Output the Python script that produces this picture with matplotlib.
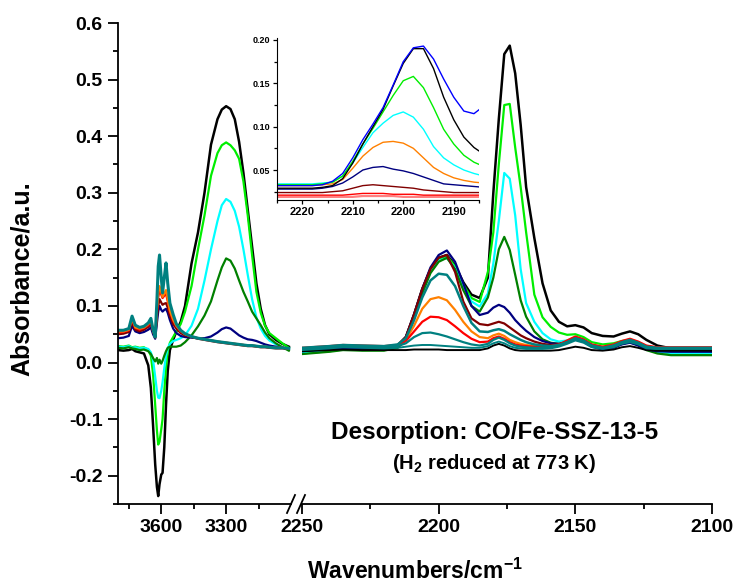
import matplotlib
matplotlib.use("Agg")
import matplotlib.pyplot as plt
from matplotlib.lines import Line2D
from matplotlib.ticker import FixedLocator, FormatStrFormatter, MultipleLocator

plt.rcParams["font.family"] = "Liberation Sans"
plt.rcParams["font.weight"] = "bold"
plt.rcParams["mathtext.fontset"] = "custom"
plt.rcParams["mathtext.rm"] = "Liberation Sans"
plt.rcParams["mathtext.bf"] = "Liberation Sans:bold"
plt.rcParams["axes.unicode_minus"] = False

W, H = 737, 584

# ---- OH region (left segment) ----
WN_L = [3800, 3775, 3750, 3735, 3720, 3700, 3680, 3660, 3648, 3638, 3628, 3620,
        3614, 3608, 3600, 3594, 3586, 3578, 3570, 3560, 3545, 3530, 3510, 3490,
        3460, 3430, 3400, 3370, 3340, 3320, 3300, 3280, 3260, 3240, 3220, 3200,
        3180, 3160, 3140, 3120, 3100, 3070, 3040, 3010]
black_L = [0.022, 0.021, 0.022, 0.024, 0.020, 0.018, 0.016, -0.005, -0.045, -0.110,
           -0.180, -0.220, -0.236, -0.215, -0.198, -0.195, -0.150, -0.075, -0.015,
           0.022, 0.040, 0.055, 0.072, 0.100, 0.175, 0.230, 0.300, 0.385, 0.430,
           0.447, 0.453, 0.448, 0.430, 0.390, 0.335, 0.270, 0.205, 0.140, 0.095,
           0.066, 0.050, 0.040, 0.033, 0.028]
lime_L = [0.029, 0.028, 0.030, 0.027, 0.028, 0.026, 0.027, 0.022, 0.012, -0.020,
          -0.075, -0.120, -0.145, -0.140, -0.118, -0.100, -0.050, -0.010, 0.020,
          0.035, 0.045, 0.055, 0.068, 0.090, 0.135, 0.200, 0.260, 0.330, 0.370,
          0.384, 0.389, 0.384, 0.375, 0.360, 0.320, 0.260, 0.190, 0.125, 0.088,
          0.065, 0.052, 0.043, 0.034, 0.026]
cyan_L = [0.028, 0.027, 0.029, 0.026, 0.027, 0.025, 0.026, 0.024, 0.018, 0.005,
          -0.025, -0.050, -0.062, -0.063, -0.050, -0.035, -0.010, 0.012, 0.025,
          0.033, 0.038, 0.040, 0.043, 0.048, 0.065, 0.095, 0.145, 0.200, 0.250,
          0.278, 0.289, 0.284, 0.268, 0.240, 0.200, 0.155, 0.112, 0.080, 0.060,
          0.047, 0.039, 0.032, 0.027, 0.023]
dgreen_L = [0.026, 0.025, 0.027, 0.025, 0.024, 0.022, 0.023, 0.020, 0.015, 0.008,
            0.002, 0.008, -0.002, 0.005, -0.002, 0.003, 0.012, 0.020, 0.026, 0.028,
            0.028, 0.028, 0.030, 0.036, 0.048, 0.064, 0.083, 0.108, 0.145, 0.168,
            0.184, 0.180, 0.166, 0.145, 0.125, 0.108, 0.090, 0.078, 0.066, 0.053,
            0.043, 0.034, 0.027, 0.021]
navy_L = [0.043, 0.044, 0.047, 0.065, 0.055, 0.052, 0.054, 0.058, 0.062, 0.050,
          0.042, 0.070, 0.090, 0.100, 0.093, 0.090, 0.093, 0.095, 0.088, 0.075,
          0.060, 0.052, 0.047, 0.045, 0.044, 0.043, 0.043, 0.046, 0.053, 0.059,
          0.062, 0.060, 0.054, 0.048, 0.044, 0.041, 0.040, 0.038, 0.035, 0.032,
          0.030, 0.028, 0.026, 0.025]
dred_L = [0.050, 0.051, 0.054, 0.072, 0.058, 0.055, 0.058, 0.063, 0.068, 0.054,
          0.044, 0.080, 0.100, 0.112, 0.106, 0.102, 0.104, 0.105, 0.097, 0.082,
          0.068, 0.060, 0.052, 0.048, 0.045, 0.042, 0.040, 0.038, 0.036, 0.035,
          0.034, 0.033, 0.032, 0.031, 0.030, 0.029, 0.029, 0.028, 0.027, 0.027,
          0.026, 0.025, 0.025, 0.024]
red_L = [0.053, 0.054, 0.057, 0.076, 0.061, 0.058, 0.061, 0.066, 0.073, 0.056,
         0.045, 0.090, 0.115, 0.128, 0.120, 0.114, 0.118, 0.122, 0.108, 0.090,
         0.074, 0.064, 0.055, 0.050, 0.046, 0.043, 0.041, 0.039, 0.037, 0.036,
         0.035, 0.034, 0.033, 0.032, 0.031, 0.030, 0.030, 0.029, 0.028, 0.028,
         0.027, 0.026, 0.026, 0.025]
orange_L = [0.055, 0.055, 0.058, 0.078, 0.062, 0.060, 0.062, 0.068, 0.075, 0.058,
            0.045, 0.095, 0.122, 0.135, 0.125, 0.116, 0.122, 0.128, 0.112, 0.092,
            0.076, 0.065, 0.056, 0.050, 0.046, 0.043, 0.041, 0.039, 0.037, 0.036,
            0.035, 0.034, 0.033, 0.032, 0.031, 0.030, 0.030, 0.029, 0.028, 0.028,
            0.027, 0.026, 0.026, 0.025]
teal_L = [0.057, 0.057, 0.060, 0.082, 0.066, 0.062, 0.064, 0.070, 0.078, 0.058,
          0.045, 0.110, 0.170, 0.190, 0.150, 0.123, 0.150, 0.176, 0.140, 0.105,
          0.085, 0.068, 0.057, 0.051, 0.046, 0.043, 0.041, 0.039, 0.037, 0.036,
          0.035, 0.034, 0.033, 0.032, 0.031, 0.030, 0.030, 0.029, 0.028, 0.028,
          0.027, 0.026, 0.026, 0.025]

# ---- CO region (right segment) ----
WN_R = [2250, 2240, 2235, 2228, 2220, 2215, 2212, 2209, 2206, 2203, 2200, 2197,
        2194, 2191, 2188, 2185, 2182, 2180, 2178, 2176, 2174, 2172, 2170, 2168,
        2165, 2162, 2159, 2156, 2153, 2150, 2147, 2144, 2140, 2136, 2133, 2130,
        2127, 2124, 2120, 2115, 2108, 2100]
black_R = [0.022, 0.025, 0.027, 0.026, 0.026, 0.030, 0.045, 0.085, 0.130, 0.165,
           0.185, 0.190, 0.172, 0.142, 0.120, 0.114, 0.150, 0.300, 0.430, 0.545,
           0.560, 0.511, 0.420, 0.310, 0.220, 0.140, 0.092, 0.072, 0.064, 0.066,
           0.062, 0.052, 0.047, 0.046, 0.051, 0.055, 0.050, 0.040, 0.030, 0.025,
           0.024, 0.024]
lime_R = [0.016, 0.020, 0.023, 0.022, 0.022, 0.027, 0.042, 0.082, 0.128, 0.163,
          0.183, 0.188, 0.170, 0.138, 0.114, 0.107, 0.160, 0.230, 0.350, 0.455,
          0.457, 0.380, 0.310, 0.230, 0.120, 0.080, 0.063, 0.053, 0.049, 0.050,
          0.045, 0.036, 0.032, 0.034, 0.038, 0.040, 0.035, 0.027, 0.020, 0.016,
          0.015, 0.015]
cyan_R = [0.018, 0.022, 0.025, 0.024, 0.024, 0.028, 0.042, 0.080, 0.125, 0.160,
          0.180, 0.185, 0.167, 0.134, 0.108, 0.099, 0.122, 0.175, 0.250, 0.335,
          0.325, 0.260, 0.165, 0.105, 0.072, 0.052, 0.041, 0.037, 0.039, 0.044,
          0.040, 0.030, 0.026, 0.029, 0.035, 0.038, 0.033, 0.025, 0.019, 0.017,
          0.017, 0.017]
dgreen_R = [0.015, 0.019, 0.022, 0.021, 0.021, 0.026, 0.040, 0.078, 0.122, 0.158,
            0.178, 0.185, 0.165, 0.128, 0.100, 0.090, 0.115, 0.150, 0.200, 0.222,
            0.199, 0.155, 0.110, 0.081, 0.055, 0.041, 0.035, 0.033, 0.036, 0.043,
            0.039, 0.029, 0.024, 0.027, 0.033, 0.036, 0.031, 0.022, 0.016, 0.013,
            0.013, 0.013]
navy_R = [0.020, 0.024, 0.026, 0.025, 0.025, 0.030, 0.045, 0.085, 0.130, 0.168,
          0.190, 0.198, 0.178, 0.140, 0.100, 0.084, 0.088, 0.097, 0.102, 0.098,
          0.088, 0.075, 0.065, 0.056, 0.045, 0.038, 0.034, 0.033, 0.035, 0.041,
          0.037, 0.028, 0.023, 0.026, 0.032, 0.035, 0.030, 0.023, 0.020, 0.019,
          0.019, 0.019]
dred_R = [0.024, 0.027, 0.029, 0.028, 0.027, 0.031, 0.045, 0.085, 0.130, 0.165,
          0.185, 0.190, 0.160, 0.108, 0.078, 0.068, 0.066, 0.069, 0.072, 0.069,
          0.062, 0.055, 0.048, 0.043, 0.037, 0.033, 0.031, 0.032, 0.036, 0.043,
          0.039, 0.030, 0.026, 0.029, 0.035, 0.039, 0.034, 0.027, 0.025, 0.024,
          0.024, 0.024]
teal_R = [0.026, 0.029, 0.031, 0.030, 0.029, 0.032, 0.043, 0.075, 0.115, 0.145,
          0.157, 0.155, 0.135, 0.100, 0.070, 0.055, 0.054, 0.057, 0.059, 0.056,
          0.050, 0.045, 0.040, 0.036, 0.032, 0.030, 0.029, 0.031, 0.036, 0.043,
          0.039, 0.030, 0.026, 0.030, 0.036, 0.040, 0.035, 0.028, 0.026, 0.026,
          0.026, 0.026]
orange_R = [0.025, 0.028, 0.030, 0.029, 0.028, 0.031, 0.040, 0.065, 0.095, 0.112,
            0.1155, 0.110, 0.093, 0.072, 0.055, 0.045, 0.043, 0.048, 0.051, 0.047,
            0.040, 0.036, 0.033, 0.031, 0.029, 0.028, 0.028, 0.030, 0.037, 0.044,
            0.040, 0.031, 0.027, 0.031, 0.037, 0.041, 0.036, 0.029, 0.026, 0.026,
            0.026, 0.026]
red_R = [0.026, 0.029, 0.031, 0.030, 0.029, 0.031, 0.038, 0.055, 0.072, 0.081,
         0.080, 0.075, 0.064, 0.052, 0.042, 0.036, 0.037, 0.043, 0.046, 0.042,
         0.036, 0.032, 0.030, 0.029, 0.028, 0.028, 0.029, 0.032, 0.039, 0.046,
         0.041, 0.032, 0.028, 0.032, 0.038, 0.042, 0.037, 0.030, 0.027, 0.027,
         0.027, 0.027]
teal2_R = [0.024, 0.027, 0.029, 0.028, 0.027, 0.029, 0.034, 0.045, 0.052, 0.053,
           0.050, 0.046, 0.041, 0.036, 0.032, 0.030, 0.033, 0.040, 0.044, 0.040,
           0.034, 0.030, 0.028, 0.027, 0.026, 0.026, 0.027, 0.030, 0.036, 0.042,
           0.038, 0.029, 0.025, 0.029, 0.035, 0.039, 0.034, 0.027, 0.025, 0.025,
           0.025, 0.025]
teal3_R = [0.022, 0.025, 0.027, 0.026, 0.025, 0.026, 0.028, 0.030, 0.031, 0.031,
           0.030, 0.029, 0.028, 0.027, 0.026, 0.026, 0.029, 0.034, 0.037, 0.034,
           0.029, 0.026, 0.025, 0.024, 0.024, 0.024, 0.025, 0.028, 0.033, 0.039,
           0.035, 0.027, 0.024, 0.027, 0.033, 0.036, 0.032, 0.025, 0.024, 0.024,
           0.024, 0.024]
black2_R = [0.020, 0.022, 0.023, 0.022, 0.022, 0.022, 0.022, 0.023, 0.023, 0.023,
            0.023, 0.022, 0.022, 0.022, 0.022, 0.022, 0.025, 0.030, 0.033, 0.030,
            0.025, 0.022, 0.021, 0.021, 0.021, 0.021, 0.021, 0.022, 0.025, 0.028,
            0.026, 0.022, 0.021, 0.023, 0.027, 0.029, 0.026, 0.022, 0.021, 0.021,
            0.021, 0.021]

# ---- inset (zoom on 2200 band) ----
WN_IN = [2226, 2222, 2218, 2216, 2214, 2212, 2210, 2208, 2206, 2204, 2202, 2200,
         2198, 2196, 2194, 2192, 2190, 2188, 2186, 2184]
blue_in = [0.032, 0.032, 0.032, 0.033, 0.037, 0.046, 0.064, 0.085, 0.103, 0.122,
           0.148, 0.175, 0.191, 0.193, 0.178, 0.155, 0.134, 0.118, 0.115, 0.124]
black_in = [0.029, 0.029, 0.029, 0.030, 0.032, 0.040, 0.058, 0.080, 0.100, 0.120,
            0.147, 0.173, 0.190, 0.190, 0.167, 0.134, 0.108, 0.088, 0.076, 0.068]
lime_in = [0.033, 0.033, 0.033, 0.034, 0.036, 0.043, 0.060, 0.080, 0.098, 0.117,
           0.136, 0.153, 0.158, 0.145, 0.122, 0.097, 0.080, 0.067, 0.059, 0.054]
cyan_in = [0.034, 0.034, 0.034, 0.035, 0.036, 0.043, 0.058, 0.076, 0.093, 0.104,
           0.113, 0.117, 0.111, 0.097, 0.077, 0.064, 0.056, 0.050, 0.046, 0.043]
orange_in = [0.032, 0.032, 0.032, 0.033, 0.034, 0.039, 0.052, 0.066, 0.076, 0.082,
             0.083, 0.081, 0.075, 0.064, 0.053, 0.046, 0.041, 0.038, 0.036, 0.035]
navy_in = [0.028, 0.028, 0.028, 0.029, 0.031, 0.035, 0.042, 0.050, 0.053, 0.054,
           0.051, 0.049, 0.046, 0.042, 0.038, 0.034, 0.033, 0.032, 0.031, 0.030]
dred_in = [0.024, 0.024, 0.024, 0.024, 0.025, 0.026, 0.029, 0.032, 0.033, 0.032,
           0.031, 0.030, 0.029, 0.027, 0.026, 0.025, 0.024, 0.024, 0.024, 0.024]
red_in = [0.021, 0.021, 0.021, 0.021, 0.021, 0.021, 0.022, 0.023, 0.023, 0.023,
          0.022, 0.022, 0.022, 0.021, 0.021, 0.021, 0.021, 0.021, 0.021, 0.021]
pink_in = [0.019, 0.019, 0.019, 0.019, 0.019, 0.019, 0.019, 0.020, 0.020, 0.020,
           0.020, 0.019, 0.019, 0.019, 0.019, 0.019, 0.019, 0.019, 0.019, 0.019]

C = {"black": "#000000", "lime": "#00ee00", "cyan": "#00ffff",
     "dgreen": "#008000", "navy": "#000080", "dred": "#800000",
     "orange": "#ff8000", "red": "#ff0000", "teal": "#008080",
     "blue": "#0000ff", "pink": "#ff8080"}


def box(x0, y0, x1, y1):
    """pixel box (origin top-left) -> figure fraction rect"""
    return [x0 / W, 1 - y1 / H, (x1 - x0) / W, (y1 - y0) / H]


def style_main(ax):
    ax.tick_params(which="major", direction="out", length=7, width=1.3,
                   labelsize=14, pad=4)
    ax.tick_params(which="minor", direction="out", length=3.5, width=1.3)
    for s in ("top", "right"):
        ax.spines[s].set_visible(False)
    for s in ("left", "bottom"):
        ax.spines[s].set_linewidth(1.3)
    ax.set_ylim(-0.25, 0.6)


def main():
    fig = plt.figure(figsize=(W / 100, H / 100), dpi=100)
    axl = fig.add_axes(box(118, 23, 291, 504))
    axr = fig.add_axes(box(302, 23, 712, 504))

    left = [(black_L, "black", 1.8), (lime_L, "lime", 1.6), (cyan_L, "cyan", 1.6),
            (dgreen_L, "dgreen", 1.6), (navy_L, "navy", 1.6), (dred_L, "dred", 1.6),
            (red_L, "red", 1.6), (orange_L, "orange", 1.6), (teal_L, "teal", 2.2)]
    for y, c, lw in left:
        axl.plot(WN_L, y, color=C[c], lw=lw)

    right = [(black_R, "black", 1.8), (lime_R, "lime", 1.6), (cyan_R, "cyan", 1.6),
             (dgreen_R, "dgreen", 1.6), (navy_R, "navy", 1.6), (dred_R, "dred", 1.6),
             (black2_R, "black", 1.4), (orange_R, "orange", 1.6),
             (red_R, "red", 1.6), (teal3_R, "teal", 1.4), (teal2_R, "teal", 1.6),
             (teal_R, "teal", 1.8)]
    for y, c, lw in right:
        axr.plot(WN_R, y, color=C[c], lw=lw)

    style_main(axl)
    axl.set_xlim(3800, 3000)
    axl.xaxis.set_major_locator(FixedLocator([3600, 3300]))
    axl.xaxis.set_minor_locator(FixedLocator([3750, 3450, 3150]))
    axl.yaxis.set_major_locator(MultipleLocator(0.1))
    axl.yaxis.set_minor_locator(MultipleLocator(0.05))
    axl.yaxis.set_major_formatter(FormatStrFormatter("%.1f"))

    style_main(axr)
    axr.spines["left"].set_visible(False)
    axr.set_yticks([])
    axr.set_xlim(2250, 2100)
    axr.xaxis.set_major_locator(FixedLocator([2250, 2200, 2150, 2100]))
    axr.xaxis.set_minor_locator(FixedLocator([2225, 2175, 2125]))
    for a in (axl, axr):
        for t in a.get_xticklabels() + a.get_yticklabels():
            t.set_fontweight("bold")

    # axis break marks
    for x0 in (287, 297):
        fig.add_artist(Line2D([x0 / W, (x0 + 8) / W],
                              [1 - 513 / H, 1 - 495 / H],
                              color="k", lw=1.3))

    fig.text(22 / W, 1 - 279 / H, "Absorbance/a.u.", rotation=90,
             ha="center", va="center", fontsize=18, fontweight="bold")
    fig.text(415 / W, 1 - 579 / H, r"Wavenumbers/cm$^{\mathbf{-1}}$",
             ha="center", va="baseline", fontsize=16.5, fontweight="bold")
    fig.text(495 / W, 1 - 438.5 / H, "Desorption: CO/Fe-SSZ-13-5",
             ha="center", va="baseline", fontsize=17.5, fontweight="bold")
    fig.text(494 / W, 1 - 469 / H,
             r"$\mathrm{(}$H$_\mathbf{2}$ reduced at 773 K$\mathrm{)}$",
             ha="center", va="baseline", fontsize=14.5, fontweight="bold")

    # inset
    axi = fig.add_axes(box(277, 38, 479, 200))
    axi.patch.set_alpha(0)
    inset = [(pink_in, "pink", 1.6), (red_in, "red", 1.0), (dred_in, "dred", 1.0),
             (navy_in, "navy", 1.0), (orange_in, "orange", 1.0),
             (cyan_in, "cyan", 1.0), (lime_in, "lime", 1.0),
             (black_in, "black", 1.0), (blue_in, "blue", 1.0)]
    for y, c, lw in inset:
        axi.plot(WN_IN, y, color=C[c], lw=lw)
    axi.set_xlim(2225, 2185)
    axi.set_ylim(0.0154, 0.2023)
    axi.xaxis.set_major_locator(MultipleLocator(10))
    axi.xaxis.set_minor_locator(MultipleLocator(5))
    axi.yaxis.set_major_locator(FixedLocator([0.05, 0.10, 0.15, 0.20]))
    axi.yaxis.set_minor_locator(FixedLocator([0.025, 0.075, 0.125, 0.175]))
    axi.yaxis.set_major_formatter(FormatStrFormatter("%.2f"))
    for s in ("top", "right"):
        axi.spines[s].set_visible(False)
    axi.tick_params(which="major", direction="out", length=3, width=0.9, pad=2)
    axi.tick_params(which="minor", direction="out", length=2, width=0.9)
    axi.tick_params(axis="x", labelsize=8)
    axi.tick_params(axis="y", labelsize=6.5)
    for t in axi.get_xticklabels() + axi.get_yticklabels():
        t.set_fontweight("bold")

    fig.savefig("out.png", dpi=100)
    plt.close(fig)


if __name__ == "__main__":
    main()
